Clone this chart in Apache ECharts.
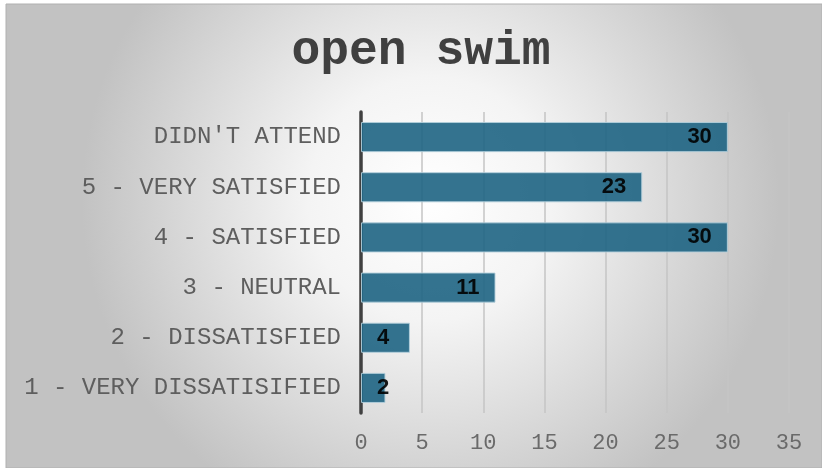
<!DOCTYPE html>
<html>
<head>
<meta charset="utf-8">
<script src="https://cdn.jsdelivr.net/npm/echarts@6/dist/echarts.min.js"></script>
<style>
  html, body { margin: 0; padding: 0; background: #fff; }
  #chart { width: 822px; height: 468px; }
</style>
</head>
<body>
<div id="chart"></div>
<script>
// survey answers, top row first
const categories = [
  "DIDN'T ATTEND",
  '5 - VERY SATISFIED',
  '4 - SATISFIED',
  '3 - NEUTRAL',
  '2 - DISSATISFIED',
  '1 - VERY DISSATISIFIED',
];
const counts = [30, 23, 30, 11, 4, 2];
const chartTitle = 'open swim';
const axisMax = 35;
const axisStep = 5;

const mono = "'Liberation Mono', 'Courier New', monospace";

const chart = echarts.init(document.getElementById('chart'));

// small bars get their label pushed from the left edge, like the original
const barData = counts.map((v) => {
  if (v < 5) {
    return { value: v, label: { position: 'insideLeft', distance: 16 } };
  }
  return v;
});

chart.setOption({
  animation: false,
  graphic: [
    {
      type: 'rect',
      z: -10,
      shape: { x: 6, y: 4, width: 816, height: 464 },
      style: {
        fill: new echarts.graphic.RadialGradient(0.52, 0.42, 0.75, [
          { offset: 0, color: '#ffffff' },
          { offset: 0.35, color: '#f4f4f4' },
          { offset: 1, color: '#c2c2c2' },
        ]),
        stroke: '#b0b0b0',
        lineWidth: 1,
      },
    },
    {
      type: 'text',
      x: 421,
      y: 52,
      style: {
        text: chartTitle,
        fontFamily: mono,
        fontWeight: 'bold',
        fontSize: 48,
        fill: '#404040',
        textAlign: 'center',
        textVerticalAlign: 'middle',
      },
    },
  ],
  grid: { left: 361, right: 33, top: 112, bottom: 55 },
  xAxis: {
    type: 'value',
    min: 0,
    max: axisMax,
    interval: axisStep,
    axisLine: { show: false },
    axisTick: { show: false },
    splitLine: { lineStyle: { color: '#c4c4c4', width: 1.5 } },
    axisLabel: {
      margin: 19,
      fontFamily: mono,
      fontSize: 22,
      color: '#6a6a6a',
    },
  },
  yAxis: {
    type: 'category',
    inverse: true,
    data: categories,
    axisLine: { lineStyle: { color: '#404040', width: 3.5 } },
    axisTick: { show: false },
    axisLabel: {
      margin: 20,
      fontFamily: mono,
      fontSize: 24,
      color: '#5e5e5e',
    },
  },
  series: [
    {
      type: 'bar',
      data: barData,
      barCategoryGap: '40%',
      itemStyle: {
        color: '#1e6483',
        opacity: 0.9,
        borderColor: '#b4cfdc',
        borderWidth: 1,
      },
      label: {
        show: true,
        position: 'insideRight',
        distance: 16,
        fontFamily: "'Liberation Sans', Arial, sans-serif",
        fontWeight: 'bold',
        fontSize: 22,
        color: '#000',
      },
    },
  ],
});
</script>
</body>
</html>
